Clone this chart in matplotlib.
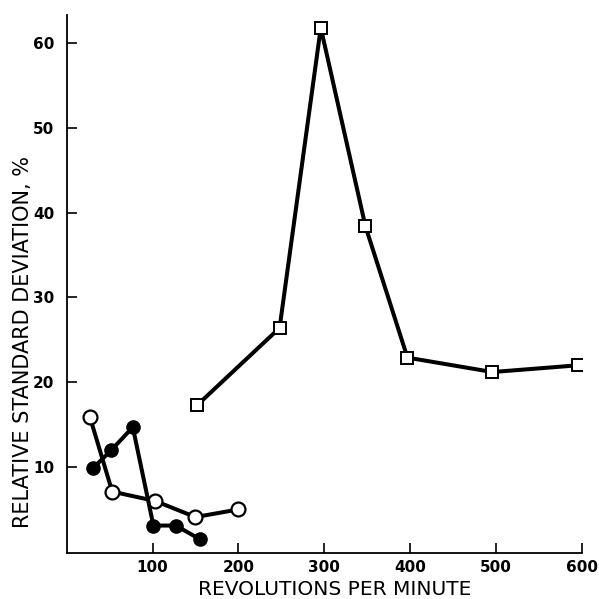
import matplotlib
matplotlib.use("Agg")
import matplotlib.pyplot as plt

# Open circles
open_x = [27, 53, 103, 150, 200]
open_y = [15.9, 7.1, 6.0, 4.1, 5.0]
# Filled circles
filled_x = [31, 52, 77, 101, 127, 155]
filled_y = [9.9, 12.0, 14.7, 3.1, 3.1, 1.5]
# Open squares
sq_x = [152, 248, 296, 348, 397, 496, 596]
sq_y = [17.3, 26.4, 61.8, 38.4, 22.9, 21.2, 22.0]

xticks = [100, 200, 300, 400, 500, 600]
yticks = [10, 20, 30, 40, 50, 60]

plt.rcParams['font.family'] = ['DejaVu Sans']

fig = plt.figure(figsize=(5.99, 5.99), dpi=100)
ax = fig.add_axes([0.1114, 0.0773, 0.9711 - 0.1114, 0.975 - 0.0773])

lw = 2.9
ax.plot(sq_x, sq_y, color='black', lw=lw, marker='s', ms=9.0,
        mfc='white', mec='black', mew=1.4, zorder=3)
ax.plot(open_x, open_y, color='black', lw=lw, marker='o', ms=10.0,
        mfc='white', mec='black', mew=1.6, zorder=3)
ax.plot(filled_x, filled_y, color='black', lw=lw, marker='o', ms=9.5,
        mfc='black', mec='black', mew=1.0, zorder=4)

ax.set_xlim(0, 600)
ax.set_ylim(-0.1, 63.3)
ax.set_xticks(xticks)
ax.set_yticks(yticks)
ax.set_xticklabels([str(v) for v in xticks], fontsize=11, fontweight='bold')
ax.set_yticklabels([str(v) for v in yticks], fontsize=11, fontweight='bold')
ax.tick_params(direction='in', length=7, width=1.2)
ax.tick_params(axis='x', pad=5)
ax.tick_params(axis='y', pad=9)

for s in ['top', 'right']:
    ax.spines[s].set_visible(False)
for s in ['left', 'bottom']:
    ax.spines[s].set_linewidth(1.3)

ax.set_xlabel('REVOLUTIONS PER MINUTE', fontsize=14.5)
ax.set_ylabel('RELATIVE STANDARD DEVIATION, %', fontsize=15)
ax.xaxis.set_label_coords(0.521, -0.050)
ax.yaxis.set_label_coords(-0.066, 0.391)

fig.savefig('out.png', dpi=100)
